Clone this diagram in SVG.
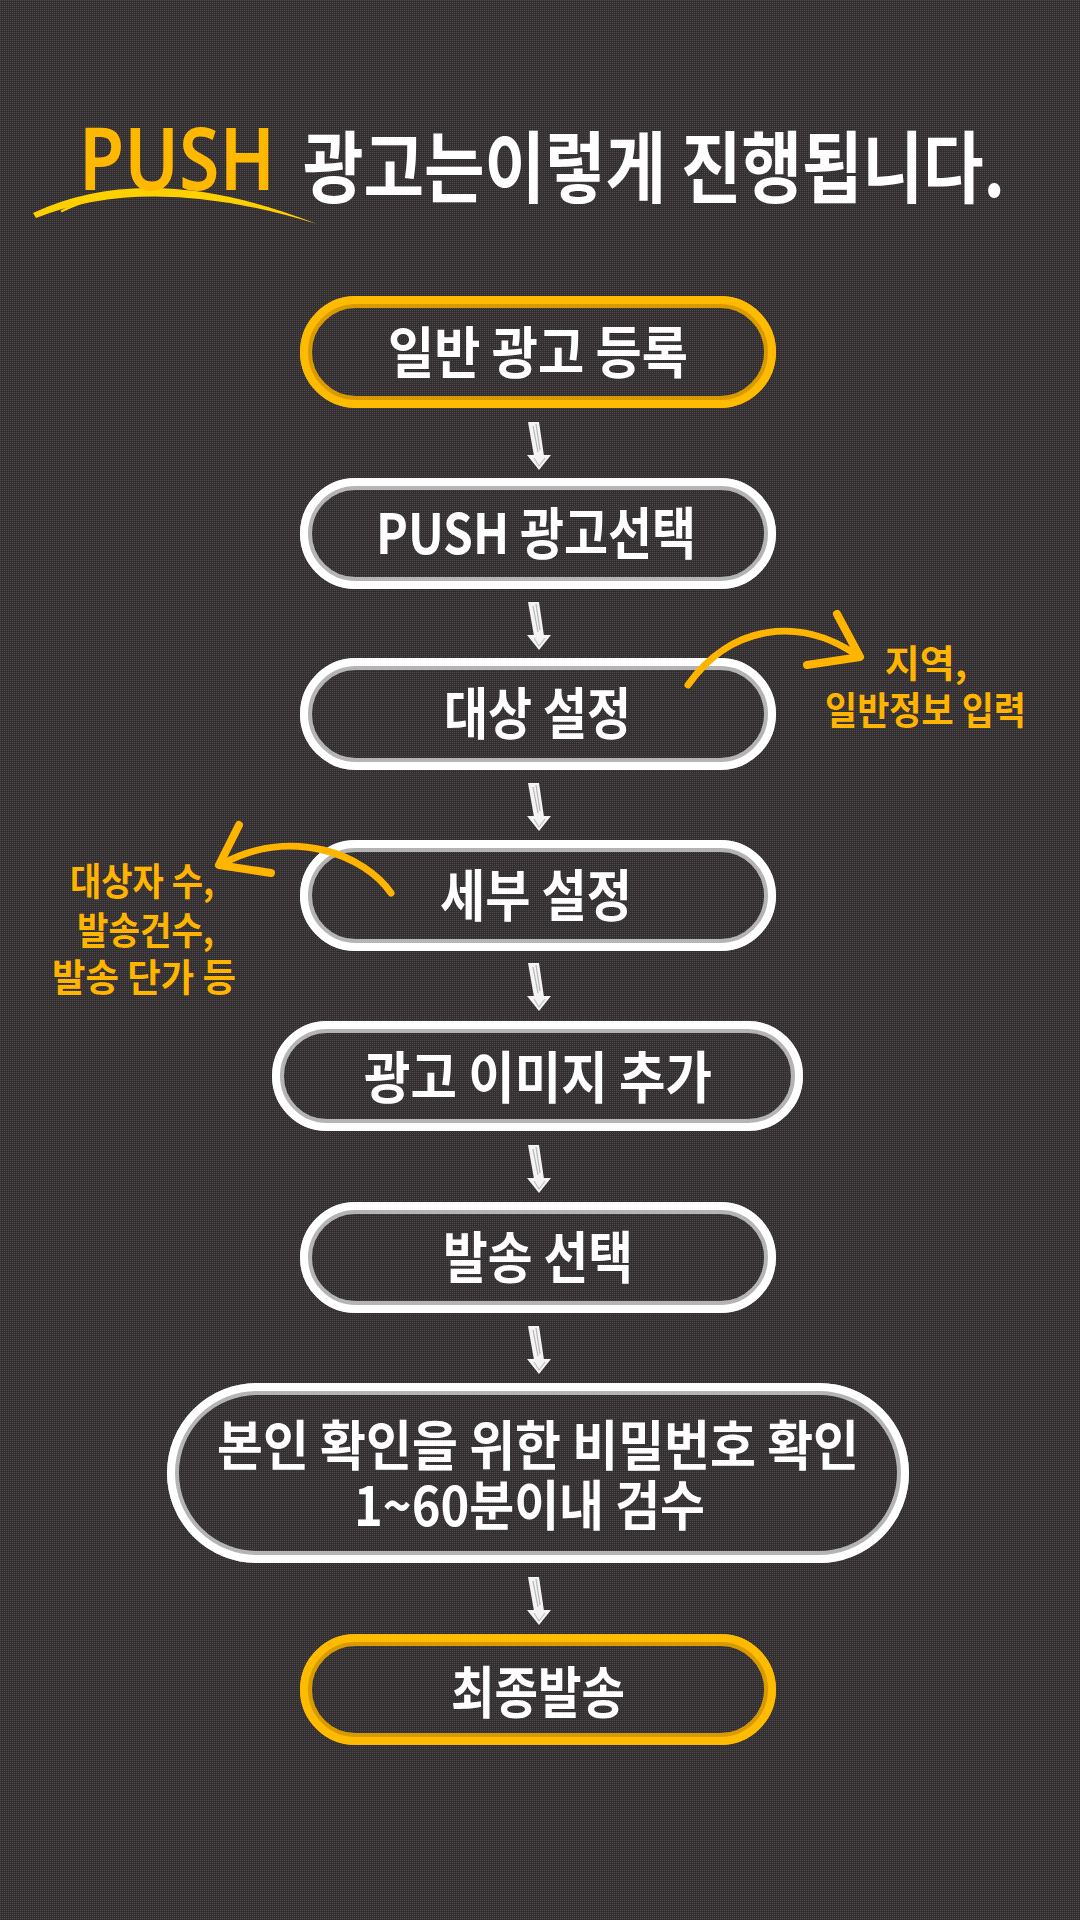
<svg xmlns="http://www.w3.org/2000/svg" width="1080" height="1920" viewBox="0 0 1080 1920">
  <defs>
    <pattern id="bgpat" width="2" height="2" patternUnits="userSpaceOnUse">
      <rect width="2" height="2" fill="#332e2f"/>
      <rect width="1" height="1" fill="#4f4a4b"/>
    </pattern>
    <g id="chalkArrow">
      <path d="M-6,0 L5,0 L10,34 L0,34 Z" fill="#f4f4f4"/>
      <path d="M-7,33 L17,33 L5,48 Z" fill="#f4f4f4"/>
      <path d="M-1,4 L4,30 M2,2 L6,28" stroke="#9c9c9c" stroke-width="1.2" fill="none" opacity="0.7"/>
      <path d="M0,36 L5,44 L11,36" stroke="#a0a0a0" stroke-width="1.2" fill="none" opacity="0.6"/>
    </g>
  </defs>
  <style>
    .wbase { fill: none; stroke: #b4b4b4; stroke-width: 12; }
    .whi { fill: none; stroke: #ffffff; stroke-width: 8; }
    .ybase { fill: none; stroke: #d99a00; stroke-width: 12; }
    .yhi { fill: none; stroke: #ffbb00; stroke-width: 8; }
    .lbl { font-family: "Noto Sans CJK KR", "Noto Sans", sans-serif; font-weight: 700; fill: #ffffff; }
    .note { font-family: "Noto Sans CJK KR", "Noto Sans", sans-serif; font-weight: 700; fill: #ffb400; font-size: 38px; }
    .ycurve { fill: none; stroke: #ffb400; stroke-width: 7; stroke-linecap: round; stroke-linejoin: round; }
  </style>

  <rect width="1080" height="1920" fill="url(#bgpat)"/>

  <g id="title">
    <path d="M33,213 Q150,158 317,224 Q150,172 36,218 Z" fill="#ffd000"/>
    <path d="M62,211 Q80,202 97,198" fill="none" stroke="#ffd000" stroke-width="2.5" stroke-linecap="round"/>
    <text x="79" y="190" textLength="196" lengthAdjust="spacingAndGlyphs" style="font-family:'Noto Sans','Liberation Sans',sans-serif;font-weight:600;font-size:86px;fill:#ffb800;">PUSH</text>
    <text x="303" y="197" textLength="702" lengthAdjust="spacingAndGlyphs" class="lbl" style="font-size:78px;">광고는이렇게 진행됩니다.</text>
  </g>

  <g id="node1">
    <rect class="ybase" x="306" y="302" width="464" height="100" rx="50"/>
    <rect class="yhi" x="304" y="300" width="468" height="104" rx="52"/>
    <text class="lbl" x="388" y="373" textLength="300" lengthAdjust="spacingAndGlyphs" style="font-size:56px;">일반 광고 등록</text>
  </g>

  <g id="node2">
    <rect class="wbase" x="306" y="484" width="464" height="99" rx="49.5"/>
    <rect class="whi" x="304" y="482" width="468" height="103" rx="51.5"/>
    <text class="lbl" x="376" y="554" textLength="320" lengthAdjust="spacingAndGlyphs" style="font-size:56px;">PUSH 광고선택</text>
  </g>

  <g id="node3">
    <rect class="wbase" x="306" y="664" width="464" height="100" rx="50"/>
    <rect class="whi" x="304" y="662" width="468" height="104" rx="52"/>
    <text class="lbl" x="444" y="734" textLength="187" lengthAdjust="spacingAndGlyphs" style="font-size:56px;">대상 설정</text>
  </g>

  <g id="node4">
    <rect class="wbase" x="306" y="846" width="464" height="99" rx="49.5"/>
    <rect class="whi" x="304" y="844" width="468" height="103" rx="51.5"/>
    <text class="lbl" x="440" y="916" textLength="192" lengthAdjust="spacingAndGlyphs" style="font-size:56px;">세부 설정</text>
  </g>

  <g id="node5">
    <rect class="wbase" x="278" y="1027" width="519" height="98" rx="49"/>
    <rect class="whi" x="276" y="1025" width="523" height="102" rx="51"/>
    <text class="lbl" x="364" y="1098" textLength="348" lengthAdjust="spacingAndGlyphs" style="font-size:56px;">광고 이미지 추가</text>
  </g>

  <g id="node6">
    <rect class="wbase" x="306" y="1208" width="464" height="99" rx="49.5"/>
    <rect class="whi" x="304" y="1206" width="468" height="103" rx="51.5"/>
    <text class="lbl" x="443" y="1278" textLength="190" lengthAdjust="spacingAndGlyphs" style="font-size:56px;">발송 선택</text>
  </g>

  <g id="node7">
    <rect class="wbase" x="173" y="1389" width="730" height="168" rx="84"/>
    <rect class="whi" x="171" y="1387" width="734" height="172" rx="86"/>
    <text class="lbl" x="217" y="1466" textLength="642" lengthAdjust="spacingAndGlyphs" style="font-size:54px;">본인 확인을 위한 비밀번호 확인</text>
    <text class="lbl" x="354" y="1526" textLength="351" lengthAdjust="spacingAndGlyphs" style="font-size:54px;">1~60분이내 검수</text>
  </g>

  <g id="node8">
    <rect class="ybase" x="306" y="1640" width="464" height="99" rx="49.5"/>
    <rect class="yhi" x="304" y="1638" width="468" height="103" rx="51.5"/>
    <text class="lbl" x="451" y="1713" textLength="174" lengthAdjust="spacingAndGlyphs" style="font-size:56px;">최종발송</text>
  </g>

  <g id="note-right">
    <text class="note" x="926" y="677" text-anchor="middle">지역,</text>
    <text class="note" x="825" y="724" textLength="201" lengthAdjust="spacingAndGlyphs">일반정보 입력</text>
  </g>

  <g id="note-left">
    <text class="note" x="70" y="895" textLength="144" lengthAdjust="spacingAndGlyphs">대상자 수,</text>
    <text class="note" x="77" y="944" textLength="137" lengthAdjust="spacingAndGlyphs">발송건수,</text>
    <text class="note" x="52" y="991" textLength="184" lengthAdjust="spacingAndGlyphs">발송 단가 등</text>
  </g>

  <g id="connectors">
    <use href="#chalkArrow" x="534" y="422"/>
    <use href="#chalkArrow" x="534" y="602"/>
    <use href="#chalkArrow" x="534" y="783"/>
    <use href="#chalkArrow" x="534" y="963"/>
    <use href="#chalkArrow" x="534" y="1145"/>
    <use href="#chalkArrow" x="534" y="1326"/>
    <use href="#chalkArrow" x="534" y="1577"/>
    <path class="ycurve" d="M688,685 C730,625 800,615 858,656"/>
    <path class="ycurve" style="stroke-width:8" d="M837,614 L860,657 L807,665"/>
    <path class="ycurve" d="M391,893 C365,855 292,826 222,864"/>
    <path class="ycurve" style="stroke-width:8" d="M239,825 L219,865 L271,873"/>
  </g>
</svg>
